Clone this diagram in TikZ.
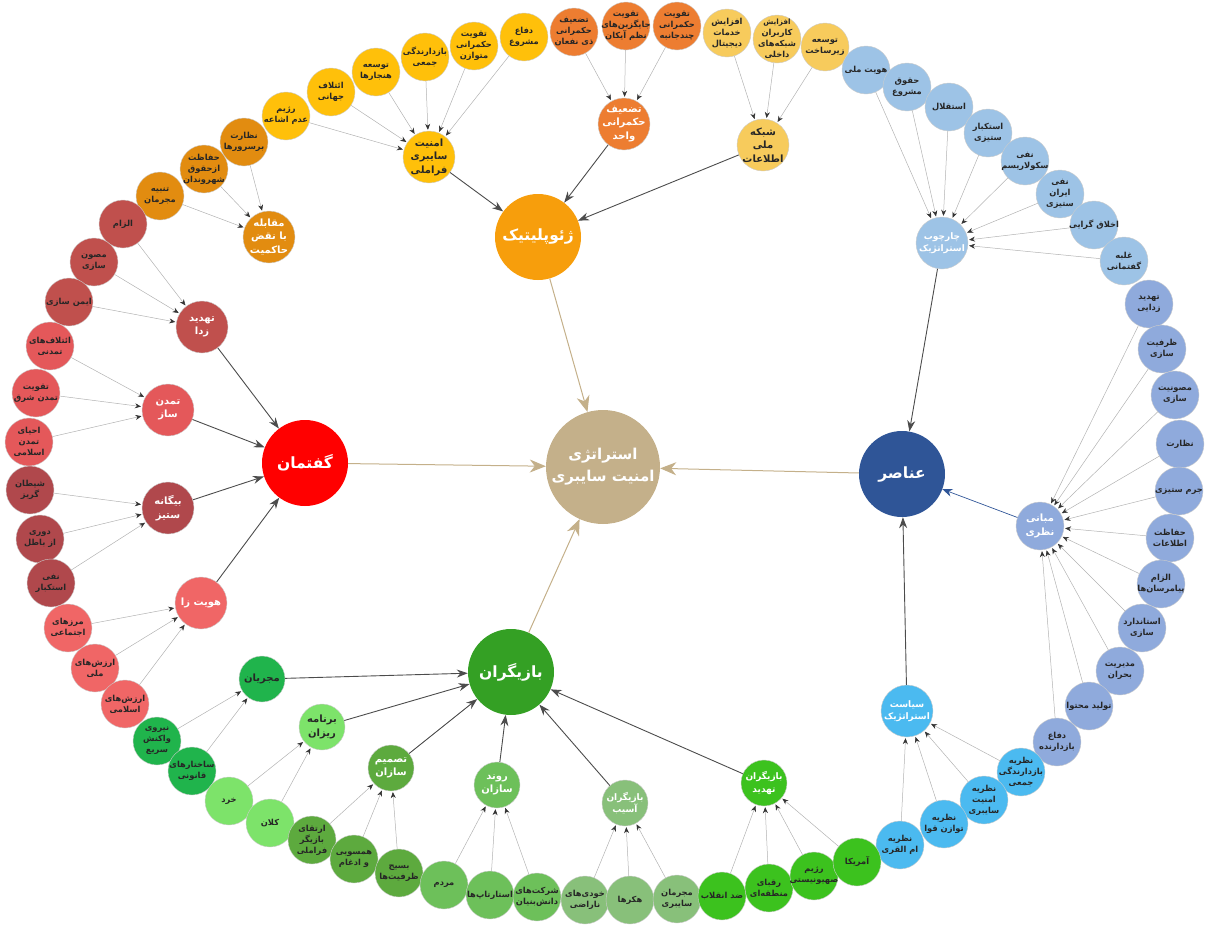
\documentclass[tikz,border=0pt]{standalone}
\usepackage{fontspec}
\newfontfamily\farsi[Script=Arabic]{DejaVu Sans}
\TeXXeTstate=1
\usetikzlibrary{arrows.meta}
\newcommand\rl[1]{\beginR#1\endR}

\definecolor{coretan}{RGB}{196,176,138}
\definecolor{geoorange}{RGB}{247,158,12}
\definecolor{cyyellow}{RGB}{255,192,10}
\definecolor{cyorange}{RGB}{237,125,49}
\definecolor{cypale}{RGB}{247,203,92}
\definecolor{cyamber}{RGB}{226,140,16}
\definecolor{gofred}{RGB}{255,0,0}
\definecolor{grose}{RGB}{192,80,77}
\definecolor{gcoral}{RGB}{228,88,90}
\definecolor{gmaroon}{RGB}{176,72,76}
\definecolor{gpink}{RGB}{240,102,102}
\definecolor{elnavy}{RGB}{47,85,151}
\definecolor{elsky}{RGB}{157,195,230}
\definecolor{elsteel}{RGB}{143,170,220}
\definecolor{elcyan}{RGB}{75,186,240}
\definecolor{bagreen}{RGB}{52,160,36}
\definecolor{baemerald}{RGB}{32,180,76}
\definecolor{balime}{RGB}{125,227,106}
\definecolor{bamoss}{RGB}{93,170,62}
\definecolor{baleaf}{RGB}{109,192,90}
\definecolor{basage}{RGB}{136,192,122}
\definecolor{bavivid}{RGB}{60,194,30}

\begin{document}
\begin{tikzpicture}[x=1pt,y=-1pt,
	leaf/.style={circle,draw=black!20,fill=#1,minimum size=48pt,inner sep=-10pt,align=center,
		text=black!85,font=\farsi\bfseries\fontsize{8.3}{11}\selectfont},
	hub/.style={circle,draw=black!20,fill=#1,minimum size=52pt,inner sep=-10pt,align=center,
		text=white,font=\farsi\bfseries\fontsize{10}{13.5}\selectfont},
	pillar/.style={circle,fill=#1,minimum size=86pt,inner sep=0pt,align=center,
		text=white,font=\farsi\bfseries\fontsize{15.5}{20}\selectfont},
	feed/.style={draw=black!30,line width=.5pt,shorten >=1pt,-{Stealth[length=6pt,width=5pt,color=black!80]}},
	link/.style={draw=black!70,line width=.9pt,-{Stealth[length=11pt,width=8pt]}},
	tolink/.style={draw=coretan,line width=1pt,-{Stealth[length=16pt,width=13pt,inset=5pt]}}]

	\useasboundingbox (0,0) rectangle (1205,929);

	% centre and the four pillars
	\node [circle,fill=coretan,minimum size=114pt,inner sep=-10pt,align=center,text=white,
		font=\farsi\bfseries\fontsize{15}{22}\selectfont] (core) at (603,467) {\rl{استراتژی}\\\rl{امنیت سایبری}};
	\node [pillar=geoorange] (geo) at (538,237) {\rl{ژئوپلیتیک}};
	\node [pillar=gofred] (gof) at (305,463) {\rl{گفتمان}};
	\node [pillar=elnavy] (ana) at (902,474) {\rl{عناصر}};
	\node [pillar=bagreen] (baz) at (511,672) {\rl{بازیگران}};
	\foreach \p in {geo, gof, ana, baz} {
		\draw [tolink] (\p) -- (core);
	}

	% geopolitics
	\node [hub=cyyellow,text=black!85] (ams) at (429,157) {\rl{امنیت}\\\rl{سایبری}\\\rl{فراملی}};
	\node [hub=cyorange] (taz) at (624,124) {\rl{تضعیف}\\\rl{حکمرانی}\\\rl{واحد}};
	\node [hub=cypale,text=black!85] (shm) at (763,145) {\rl{شبکه}\\\rl{ملی}\\\rl{اطلاعات}};
	\node [hub=cyamber] (moq) at (269,237) {\rl{مقابله}\\\rl{با نقض}\\\rl{حاکمیت}};
	\foreach \h in {ams, taz, shm} {
		\draw [link] (\h) -- (geo);
	}
	\foreach \n/\x/\y/\t in {a1/286/116/{\rl{رژیم}\\\rl{عدم اشاعه}}, a2/331/92/{\rl{ائتلاف}\\\rl{جهانی}},
		a3/376/72/{\rl{توسعه}\\\rl{هنجارها}}, a4/425/57/{\rl{بازدارندگی}\\\rl{جمعی}},
		a5/474/46/{\rl{تقویت}\\\rl{حکمرانی}\\\rl{متوازن}}, a6/524/37/{\rl{دفاع}\\\rl{مشروع}}} {
		\node [leaf=cyyellow] (\n) at (\x,\y) {\t};
		\draw [feed] (\n) -- (ams);
	}
	\foreach \n/\x/\y/\t in {m1/160/196/{\rl{تنبیه}\\\rl{مجرمان}}, m2/204/169/{\rl{حفاظت}\\\rl{ازحقوق}\\\rl{شهروندان}},
		m3/244/142/{\rl{نظارت}\\\rl{برسرورها}}} {
		\node [leaf=cyamber] (\n) at (\x,\y) {\t};
		\draw [feed] (\n) -- (moq);
	}
	\foreach \n/\x/\y/\t in {t1/574/32/{\rl{تضعیف}\\\rl{حکمرانی}\\\rl{ذی نفعان}}, t2/626/26/{\rl{تقویت}\\\rl{جایگزین‌های}\\\rl{نظم آیکان}},
		t3/677/26/{\rl{تقویت}\\\rl{حکمرانی}\\\rl{چندجانبه}}} {
		\node [leaf=cyorange] (\n) at (\x,\y) {\t};
		\draw [feed] (\n) -- (taz);
	}
	\foreach \n/\x/\y/\t in {s1/727/33/{\rl{افزایش}\\\rl{خدمات}\\\rl{دیجیتال}},
		s2/777/39/{\fontsize{7.3}{9.5}\selectfont\rl{افزایش}\\\rl{کاربران}\\\rl{شبکه‌های}\\\rl{داخلی}},
		s3/825/47/{\rl{توسعه}\\\rl{زیرساخت}}} {
		\node [leaf=cypale] (\n) at (\x,\y) {\t};
		\draw [feed] (\n) -- (shm);
	}

	% discourse
	\node [hub=grose] (tz) at (202,327) {\rl{تهدید}\\\rl{زدا}};
	\node [hub=gcoral] (tm) at (168,410) {\rl{تمدن}\\\rl{ساز}};
	\node [hub=gmaroon] (bs) at (168,508) {\rl{بیگانه}\\\rl{ستیز}};
	\node [hub=gpink] (hz) at (201,603) {\rl{هویت زا}};
	\foreach \h in {tz, tm, bs, hz} {
		\draw [link] (\h) -- (gof);
	}
	\foreach \n/\x/\y/\t in {z1/123/224/{\rl{الزام}}, z2/94/262/{\rl{مصون}\\\rl{سازی}}, z3/69/302/{\rl{ایمن سازی}}} {
		\node [leaf=grose] (\n) at (\x,\y) {\t};
		\draw [feed] (\n) -- (tz);
	}
	\foreach \n/\x/\y/\t in {c1/50/346/{\rl{ائتلاف‌های}\\\rl{تمدنی}}, c2/36/393/{\rl{تقویت}\\\rl{تمدن شرق}},
		c3/29/442/{\rl{احیای}\\\rl{تمدن}\\\rl{اسلامی}}} {
		\node [leaf=gcoral] (\n) at (\x,\y) {\t};
		\draw [feed] (\n) -- (tm);
	}
	\foreach \n/\x/\y/\t in {b1/30/490/{\rl{شیطان}\\\rl{گریز}}, b2/40/539/{\rl{دوری}\\\rl{از باطل}},
		b3/51/583/{\rl{نفی}\\\rl{استکبار}}} {
		\node [leaf=gmaroon] (\n) at (\x,\y) {\t};
		\draw [feed] (\n) -- (bs);
	}
	\foreach \n/\x/\y/\t in {h1/68/628/{\rl{مرزهای}\\\rl{اجتماعی}}, h2/95/668/{\rl{ارزش‌های}\\\rl{ملی}},
		h3/125/704/{\rl{ارزش‌های}\\\rl{اسلامی}}} {
		\node [leaf=gpink] (\n) at (\x,\y) {\t};
		\draw [feed] (\n) -- (hz);
	}

	% elements
	\node [hub=elsky,font=\farsi\bfseries\fontsize{9}{12.5}\selectfont] (chs) at (942,243) {\rl{چارچوب}\\\rl{استراتژیک}};
	\node [hub=elsteel,minimum size=48pt] (mbn) at (1040,526) {\rl{مبانی}\\\rl{نظری}};
	\node [hub=elcyan,font=\farsi\bfseries\fontsize{9}{12.5}\selectfont] (sys) at (907,711) {\rl{سیاست}\\\rl{استراتژیک}};
	\draw [link] (chs) -- (ana);
	\draw [link] (sys) -- (ana);
	\draw [draw=elnavy,line width=.7pt,-{Stealth[length=10pt,width=8pt]}] (mbn) -- (ana);
	\foreach \n/\x/\y/\t in {e1/866/70/{\rl{هویت ملی}}, e2/907/87/{\rl{حقوق}\\\rl{مشروع}}, e3/949/107/{\rl{استقلال}},
		e4/988/133/{\rl{استکبار}\\\rl{ستیزی}}, e5/1025/161/{\rl{نفی}\\\rl{سکولاریسم}},
		e6/1060/194/{\rl{نفی}\\\rl{ایران}\\\rl{ستیزی}}, e7/1094/225/{\rl{اخلاق گرایی}}, e8/1124/261/{\rl{غلبه}\\\rl{گفتمانی}}} {
		\node [leaf=elsky] (\n) at (\x,\y) {\t};
		\draw [feed] (\n) -- (chs);
	}
	\foreach \n/\x/\y/\t in {n1/1149/304/{\rl{تهدید}\\\rl{زدایی}}, n2/1162/349/{\rl{ظرفیت}\\\rl{سازی}},
		n3/1175/395/{\rl{مصونیت}\\\rl{سازی}}, n4/1180/444/{\rl{نظارت}}, n5/1179/491/{\rl{جرم ستیزی}},
		n6/1170/538/{\rl{حفاظت}\\\rl{اطلاعات}}, n7/1161/584/{\rl{الزام}\\\rl{پیامرسان‌ها}},
		n8/1142/628/{\rl{استاندارد}\\\rl{سازی}}, n9/1120/671/{\rl{مدیریت}\\\rl{بحران}},
		n10/1089/706/{\rl{تولید محتوا}}, n11/1057/742/{\rl{دفاع}\\\rl{بازدارنده}}} {
		\node [leaf=elsteel] (\n) at (\x,\y) {\t};
		\draw [feed] (\n) -- (mbn);
	}
	\foreach \n/\x/\y/\t in {p1/1021/772/{\rl{نظریه}\\\rl{بازدارندگی}\\\rl{جمعی}}, p2/984/800/{\rl{نظریه}\\\rl{امنیت}\\\rl{سایبری}},
		p3/944/824/{\rl{نظریه}\\\rl{توازن قوا}}, p4/900/845/{\rl{نظریه}\\\rl{ام القری}}} {
		\node [leaf=elcyan] (\n) at (\x,\y) {\t};
		\draw [feed] (\n) -- (sys);
	}

	% actors
	\node [hub=baemerald,minimum size=46pt,text=black!85] (mj) at (262,679) {\rl{مجریان}};
	\node [hub=balime,minimum size=46pt,text=black!85] (br) at (322,727) {\rl{برنامه}\\\rl{ریزان}};
	\node [hub=bamoss,minimum size=46pt] (ts) at (391,768) {\rl{تصمیم}\\\rl{سازان}};
	\node [hub=baleaf,minimum size=46pt] (rs) at (497,785) {\rl{روند}\\\rl{سازان}};
	\node [hub=basage,minimum size=46pt,font=\farsi\bfseries\fontsize{9}{12.5}\selectfont] (ba) at (625,803) {\rl{بازیگران}\\\rl{آسیب}};
	\node [hub=bavivid,minimum size=46pt,font=\farsi\bfseries\fontsize{9}{12.5}\selectfont] (bt) at (764,783) {\rl{بازیگران}\\\rl{تهدید}};
	\foreach \h in {mj, br, ts, rs, ba, bt} {
		\draw [link] (\h) -- (baz);
	}
	\foreach \n/\x/\y/\t in {j1/157/741/{\rl{نیروی}\\\rl{واکنش}\\\rl{سریع}}, j2/192/771/{\rl{ساختارهای}\\\rl{قانونی}}} {
		\node [leaf=baemerald] (\n) at (\x,\y) {\t};
		\draw [feed] (\n) -- (mj);
	}
	\foreach \n/\x/\y/\t in {r1/229/801/{\rl{خرد}}, r2/270/823/{\rl{کلان}}} {
		\node [leaf=balime] (\n) at (\x,\y) {\t};
		\draw [feed] (\n) -- (br);
	}
	\foreach \n/\x/\y/\t in {d1/312/840/{\rl{ارتقای}\\\rl{بازیگر}\\\rl{فراملی}}, d2/354/859/{\rl{همسویی}\\\rl{و ادغام}},
		d3/399/873/{\rl{بسیج}\\\rl{ظرفیت‌ها}}} {
		\node [leaf=bamoss] (\n) at (\x,\y) {\t};
		\draw [feed] (\n) -- (ts);
	}
	\foreach \n/\x/\y/\t in {o1/444/885/{\rl{مردم}}, o2/490/895/{\rl{استارتاپ‌ها}}, o3/537/897/{\rl{شرکت‌های}\\\rl{دانش‌بنیان}}} {
		\node [leaf=baleaf] (\n) at (\x,\y) {\t};
		\draw [feed] (\n) -- (rs);
	}
	\foreach \n/\x/\y/\t in {k1/585/900/{\rl{خودی‌های}\\\rl{ناراضی}}, k2/630/900/{\rl{هکرها}}, k3/677/899/{\rl{مجرمان}\\\rl{سایبری}}} {
		\node [leaf=basage] (\n) at (\x,\y) {\t};
		\draw [feed] (\n) -- (ba);
	}
	\foreach \n/\x/\y/\t in {v1/722/896/{\rl{ضد انقلاب}}, v2/769/888/{\rl{رقبای}\\\rl{منطقه‌ای}},
		v3/814/876/{\rl{رژیم}\\\rl{صهیونیستی}}, v4/857/862/{\rl{آمریکا}}} {
		\node [leaf=bavivid] (\n) at (\x,\y) {\t};
		\draw [feed] (\n) -- (bt);
	}
\end{tikzpicture}
\end{document}
